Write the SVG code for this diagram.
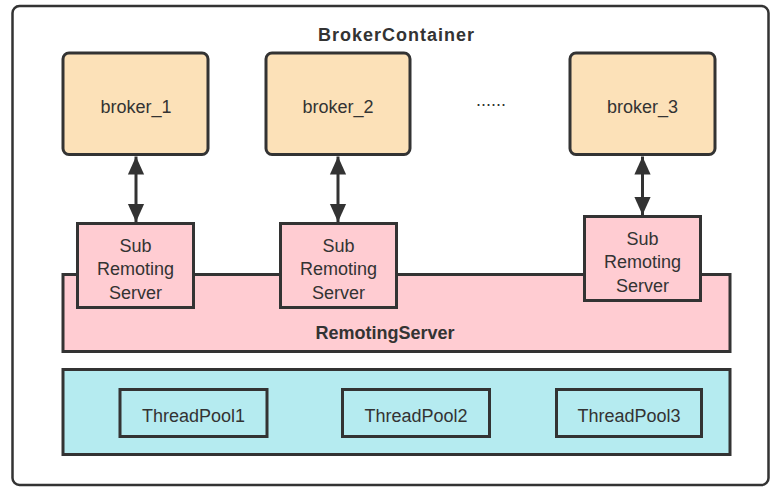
<svg xmlns="http://www.w3.org/2000/svg" width="780" height="495" viewBox="0 0 780 495">
<defs>
<style>
.t{font-family:"Liberation Sans",Arial,sans-serif;font-size:18px;fill:#333;text-anchor:middle}
.b{font-weight:bold}
.box{stroke:#333;stroke-width:3}
.broker{fill:#FCE1B8}
.pink{fill:#FFCCD2}
.teal{fill:#B5EBF0}
.conn{stroke:#333;stroke-width:3;fill:none;marker-start:url(#ah);marker-end:url(#ah)}
</style>
<marker id="ah" viewBox="0 0 10 10" refX="10" refY="5" markerWidth="6" markerHeight="6" orient="auto-start-reverse" markerUnits="strokeWidth">
<path d="M0,0.5 L10,5 L0,9.5 z" fill="#333"/>
</marker>
</defs>
<rect width="780" height="495" fill="#fff"/>
<g id="container">
<rect x="12.5" y="6" width="756" height="479" rx="7" fill="#fff" stroke="#333" stroke-width="2.5"/>
<text class="t b" x="396" y="40.5" textLength="156">BrokerContainer</text>
</g>
<g id="broker_1">
<rect class="box broker" x="63" y="53" width="145" height="101.5" rx="6"/>
<text class="t" x="136" y="112.5">broker_1</text>
</g>
<g id="broker_2">
<rect class="box broker" x="266" y="53" width="144" height="101.5" rx="6"/>
<text class="t" x="338" y="112.5">broker_2</text>
</g>
<text class="t" x="491" y="106">......</text>
<g id="broker_3">
<rect class="box broker" x="570" y="53" width="145" height="101.5" rx="6"/>
<text class="t" x="642.5" y="112.5">broker_3</text>
</g>
<g id="remotingServer">
<rect class="box pink" x="63" y="274.5" width="667" height="77"/>
<text class="t b" x="385" y="338.5">RemotingServer</text>
</g>
<g id="sub_1">
<rect class="box pink" x="77.5" y="223.5" width="116" height="84"/>
<text class="t" x="135.5" y="251.5">Sub</text>
<text class="t" x="135.5" y="275">Remoting</text>
<text class="t" x="135.5" y="298.5">Server</text>
</g>
<g id="sub_2">
<rect class="box pink" x="280.5" y="223.5" width="116" height="84"/>
<text class="t" x="338.5" y="251.5">Sub</text>
<text class="t" x="338.5" y="275">Remoting</text>
<text class="t" x="338.5" y="298.5">Server</text>
</g>
<g id="sub_3">
<rect class="box pink" x="584.5" y="216.5" width="116" height="84"/>
<text class="t" x="642.5" y="244.5">Sub</text>
<text class="t" x="642.5" y="268">Remoting</text>
<text class="t" x="642.5" y="291.5">Server</text>
</g>
<g id="threadPools">
<rect class="box teal" x="63" y="369.5" width="667" height="85"/>
</g>
<g id="threadPool1">
<rect class="box teal" x="120" y="389.5" width="147" height="47"/>
<text class="t" x="193.5" y="421.5">ThreadPool1</text>
</g>
<g id="threadPool2">
<rect class="box teal" x="342.5" y="389.5" width="147" height="47"/>
<text class="t" x="416" y="421.5">ThreadPool2</text>
</g>
<g id="threadPool3">
<rect class="box teal" x="556.5" y="389.5" width="145" height="47"/>
<text class="t" x="629" y="421.5">ThreadPool3</text>
</g>
<g id="connectors">
<line class="conn" x1="136" y1="156.5" x2="136" y2="222"/>
<line class="conn" x1="338" y1="156.5" x2="338" y2="222"/>
<line class="conn" x1="642.5" y1="156.5" x2="642.5" y2="215"/>
</g>
</svg>
